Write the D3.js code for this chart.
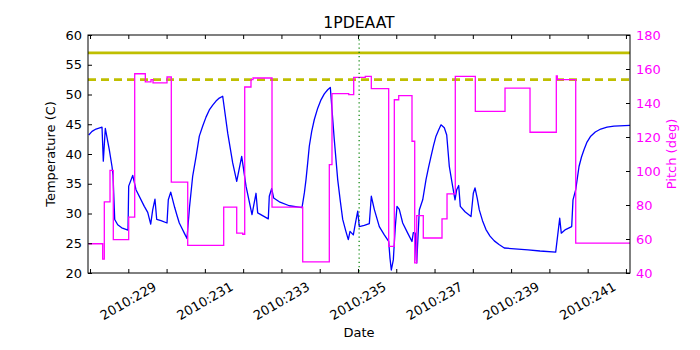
<!DOCTYPE html>
<html>
<head>
<meta charset="utf-8">
<script src="https://cdn.jsdelivr.net/npm/d3@7"></script>
<style>
  body { margin: 0; background: #fff; }
  text { font-family: "DejaVu Sans", sans-serif; }
</style>
</head>
<body>
<script>
// Chart data (day of year 2010)
const tempDays = [227.966, 228.052, 228.156, 228.313, 228.347, 228.399, 228.504, 228.574, 228.600, 228.645,
  228.723, 228.828, 228.992, 229.010, 229.115, 229.201, 229.418, 229.507, 229.585, 229.637,
  229.697, 229.742, 229.854, 230.011, 230.045, 230.108, 230.212, 230.280, 230.332, 230.410,
  230.463, 230.533, 230.598, 230.682, 230.769, 230.855, 230.944, 231.030, 231.116, 231.205,
  231.291, 231.377, 231.466, 231.597, 231.727, 231.832, 231.962, 232.075, 232.231, 232.336,
  232.380, 232.519, 232.657, 232.683, 232.746, 232.798, 232.963, 233.206, 233.538, 233.600,
  233.642, 233.686, 233.728, 233.791, 233.859, 233.948, 234.034, 234.120, 234.209, 234.277,
  234.381, 234.470, 234.540, 234.601, 234.684, 234.747, 234.792, 234.878, 234.931, 234.993,
  235.035, 235.165, 235.296, 235.348, 235.426, 235.557, 235.688, 235.802, 235.836, 235.870,
  235.923, 235.975, 236.019, 236.079, 236.168, 236.299, 236.411, 236.445, 236.497, 236.523,
  236.534, 236.602, 236.691, 236.777, 236.842, 236.908, 236.973, 237.038, 237.104, 237.169,
  237.255, 237.318, 237.386, 237.474, 237.535, 237.579, 237.631, 237.673, 237.796, 237.953,
  238.013, 238.057, 238.117, 238.169, 238.253, 238.344, 238.449, 238.561, 238.684, 238.822,
  239.442, 239.755, 240.165, 240.270, 240.311, 240.421, 240.583, 240.617, 240.688, 240.774,
  240.839, 240.904, 240.983, 241.080, 241.199, 241.341, 241.506, 241.688, 242.106];
const tempValues = [43.2, 43.8, 44.2, 44.5, 38.8, 44.3, 40.7, 37.9, 36.5, 29.0,
  28.1, 27.6, 27.2, 34.6, 36.4, 34.0, 31.2, 30.2, 28.2, 30.6,
  32.4, 29.0, 28.8, 28.4, 32.3, 33.6, 31.0, 29.5, 28.4, 27.4,
  26.7, 25.8, 31.0, 36.3, 39.5, 43.0, 44.7, 46.2, 47.4, 48.2,
  48.9, 49.4, 49.7, 43.5, 38.5, 35.4, 39.6, 34.6, 29.8, 33.4,
  30.1, 29.6, 29.1, 32.9, 34.2, 32.6, 31.9, 31.3, 31.0, 33.5,
  35.7, 38.5, 41.3, 43.8, 45.8, 47.7, 49.1, 50.1, 50.8, 51.2,
  42.4, 35.7, 32.0, 29.0, 27.0, 25.6, 27.0, 26.4, 28.3, 30.4,
  27.8, 28.0, 28.3, 32.9, 30.7, 27.8, 26.4, 25.3, 22.5, 20.5,
  22.2, 27.8, 31.2, 30.7, 28.4, 26.7, 25.3, 26.8, 26.7, 22.3,
  21.7, 30.6, 32.3, 35.7, 37.7, 39.6, 41.4, 43.0, 44.0, 44.9,
  44.4, 43.2, 37.9, 34.5, 32.3, 34.0, 34.7, 31.2, 30.3, 29.5,
  33.4, 34.3, 32.5, 30.6, 28.8, 27.3, 26.2, 25.4, 24.8, 24.2,
  23.9, 23.7, 23.5, 29.2, 26.7, 27.3, 27.8, 32.3, 34.0, 37.9,
  39.5, 40.7, 42.0, 43.0, 43.7, 44.2, 44.5, 44.7, 44.8];

// Pitch is a step series: value holds from each day until the next one
const pitchDays = [227.966, 228.331, 228.373, 228.522, 228.608, 229.010, 229.167, 229.444, 229.593, 229.645,
  230.011, 230.123, 230.552, 231.492, 231.832, 231.989, 232.041, 232.205, 232.258, 232.754,
  233.556, 234.251, 234.321, 234.758, 234.888, 235.191, 235.348, 235.802, 235.949, 236.064,
  236.411, 236.482, 236.534, 236.706, 237.195, 237.326, 237.542, 238.065, 238.841, 239.494,
  240.181, 240.207, 240.688, 242.106];
const pitchValues = [57.2, 48.2, 81.8, 100.4, 59.6, 72.9, 157.2, 152.4, 153.7, 151.8,
  155.3, 93.5, 56.3, 78.8, 63.5, 62.8, 149.4, 153.7, 154.7, 78.8,
  46.6, 103.7, 145.5, 144.9, 155.1, 155.7, 148.4, 55.7, 141.9, 144.3,
  117.5, 46.0, 73.7, 60.6, 71.8, 86.6, 155.7, 135.1, 148.8, 122.8,
  156.0, 153.7, 57.6, 57.6];

const tempLimits = [57, 52.5];
const markerDay = 235.03;

const xTickDays = d3.range(228, 243);
const xLabelDays = [229, 231, 233, 235, 237, 239, 241];
const tempTicks = [20, 25, 30, 35, 40, 45, 50, 55, 60];
const pitchTicks = [40, 60, 80, 100, 120, 140, 160, 180];

// Set up the SVG
const width = 700, height = 350;
const margin = { top: 35, right: 70, bottom: 77, left: 88 };
const plotW = width - margin.left - margin.right;
const plotH = height - margin.top - margin.bottom;

const svg = d3.select("body")
  .append("svg")
  .attr("width", width)
  .attr("height", height);

const g = svg.append("g")
  .attr("transform", `translate(${margin.left}, ${margin.top})`);

// Scales
const xScale = d3.scaleLinear().domain([227.947, 242.106]).range([0, plotW]);
const yTemp = d3.scaleLinear().domain([20, 60]).range([plotH, 0]);
const yPitch = d3.scaleLinear().domain([40, 180]).range([plotH, 0]);

g.append("clipPath").attr("id", "clip")
  .append("rect").attr("width", plotW).attr("height", plotH);

const plot = g.append("g").attr("clip-path", "url(#clip)");

// Limit lines
plot.append("line")
  .attr("x1", 0).attr("x2", plotW)
  .attr("y1", yTemp(tempLimits[0])).attr("y2", yTemp(tempLimits[0]))
  .attr("stroke", "#bfbf00").attr("stroke-width", 2.7);
plot.append("line")
  .attr("x1", 0).attr("x2", plotW)
  .attr("y1", yTemp(tempLimits[1])).attr("y2", yTemp(tempLimits[1]))
  .attr("stroke", "#bfbf00").attr("stroke-width", 2.7)
  .attr("stroke-dasharray", "8,5");

// Temperature line
const tempData = tempDays.map((d, i) => [d, tempValues[i]]);
plot.append("path")
  .datum(tempData)
  .attr("fill", "none")
  .attr("stroke", "#0000ff")
  .attr("stroke-width", 1.3)
  .attr("stroke-linejoin", "round")
  .attr("d", d3.line().x(d => xScale(d[0])).y(d => yTemp(d[1])));

// Pitch step line
const pitchData = pitchDays.map((d, i) => [d, pitchValues[i]]);
plot.append("path")
  .datum(pitchData)
  .attr("fill", "none")
  .attr("stroke", "#ff00ff")
  .attr("stroke-width", 1.3)
  .attr("d", d3.line().curve(d3.curveStepAfter).x(d => xScale(d[0])).y(d => yPitch(d[1])));

// Vertical marker
plot.append("line")
  .attr("x1", xScale(markerDay)).attr("x2", xScale(markerDay))
  .attr("y1", 0).attr("y2", plotH)
  .attr("stroke", "#008000").attr("stroke-width", 1.2)
  .attr("stroke-dasharray", "1.2,3");

// Axes (ticks pointing inward)
const xBottom = d3.axisBottom(xScale).tickValues(xTickDays).tickSizeInner(-4).tickSizeOuter(0).tickFormat("");
const xTop = d3.axisTop(xScale).tickValues(xTickDays).tickSizeInner(-4).tickSizeOuter(0).tickFormat("");
const yLeft = d3.axisLeft(yTemp).tickValues(tempTicks).tickSizeInner(-4).tickSizeOuter(0).tickPadding(6);
const yRight = d3.axisRight(yPitch).tickValues(pitchTicks).tickSizeInner(-4).tickSizeOuter(0).tickPadding(6);

g.append("g").attr("transform", `translate(0, ${plotH})`).call(xBottom);
g.append("g").call(xTop);
g.append("g").call(yLeft);
g.append("g").attr("transform", `translate(${plotW}, 0)`).call(yRight)
  .selectAll("text").attr("fill", "#ff00ff");

g.selectAll(".domain").remove();
g.selectAll(".tick line").attr("stroke", "#000");
g.selectAll(".tick text").attr("font-size", 13).attr("font-family", "DejaVu Sans, sans-serif");

// Frame
g.append("rect")
  .attr("width", plotW).attr("height", plotH)
  .attr("fill", "none").attr("stroke", "#000").attr("stroke-width", 1);

// Rotated date labels
g.selectAll(".xlab")
  .data(xLabelDays)
  .enter()
  .append("text")
  .attr("class", "xlab")
  .attr("transform", d => `translate(${xScale(d)}, ${plotH + 28}) rotate(-30)`)
  .attr("text-anchor", "middle")
  .attr("dominant-baseline", "central")
  .attr("font-size", 13)
  .text(d => `2010:${d}`);

// Titles and labels
svg.append("text")
  .attr("x", margin.left + plotW / 2).attr("y", 28)
  .attr("text-anchor", "middle").attr("font-size", 15.6)
  .text("1PDEAAT");

svg.append("text")
  .attr("x", margin.left + plotW / 2).attr("y", 337)
  .attr("text-anchor", "middle").attr("font-size", 13)
  .text("Date");

svg.append("text")
  .attr("transform", `translate(55, ${margin.top + plotH / 2}) rotate(-90)`)
  .attr("text-anchor", "middle").attr("font-size", 13)
  .text("Temperature (C)");

svg.append("text")
  .attr("transform", `translate(676, ${margin.top + plotH / 2}) rotate(-90)`)
  .attr("text-anchor", "middle").attr("font-size", 13)
  .attr("fill", "#ff00ff")
  .text("Pitch (deg)");
</script>
</body>
</html>
